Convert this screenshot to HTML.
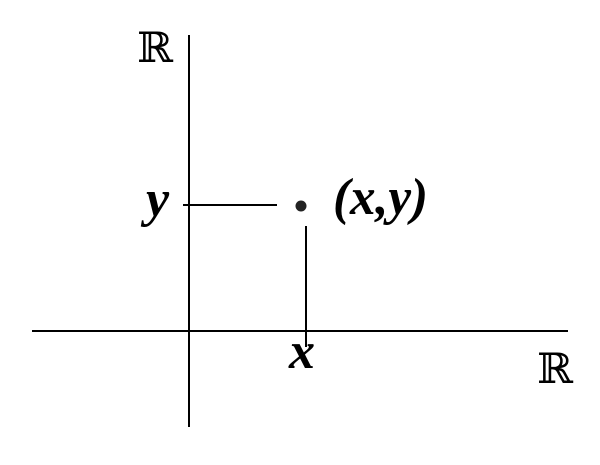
<!DOCTYPE html>
<html><head><style>html,body{margin:0;padding:0;background:#fff;}
.m{font-family:"Liberation Serif","Times New Roman",serif;font-weight:bold;font-style:italic;font-size:52px;}
.r{font-family:"DejaVu Serif",serif;font-size:42px;}
</style></head>
<body>
<svg width="600" height="460" xmlns="http://www.w3.org/2000/svg">
<rect width="600" height="460" fill="#fff"/>
<g stroke="#000" stroke-width="2">
<line x1="189" y1="35" x2="189" y2="427"/>
<line x1="32" y1="331" x2="568" y2="331"/>
<line x1="183" y1="205" x2="277" y2="205"/>
<line x1="306" y1="226" x2="306" y2="347"/>
</g>
<circle cx="301" cy="206" r="5.5" fill="#222"/>
<text class="r" x="137" y="62" textLength="36" lengthAdjust="spacingAndGlyphs">ℝ</text>
<text class="r" x="537" y="383" textLength="36" lengthAdjust="spacingAndGlyphs">ℝ</text>
<text class="m" x="146" y="216">y</text>
<text class="m" x="289" y="368">x</text>
<text class="m" x="333" y="214" textLength="95" lengthAdjust="spacingAndGlyphs">(x,y)</text>
</svg>
</body></html>
